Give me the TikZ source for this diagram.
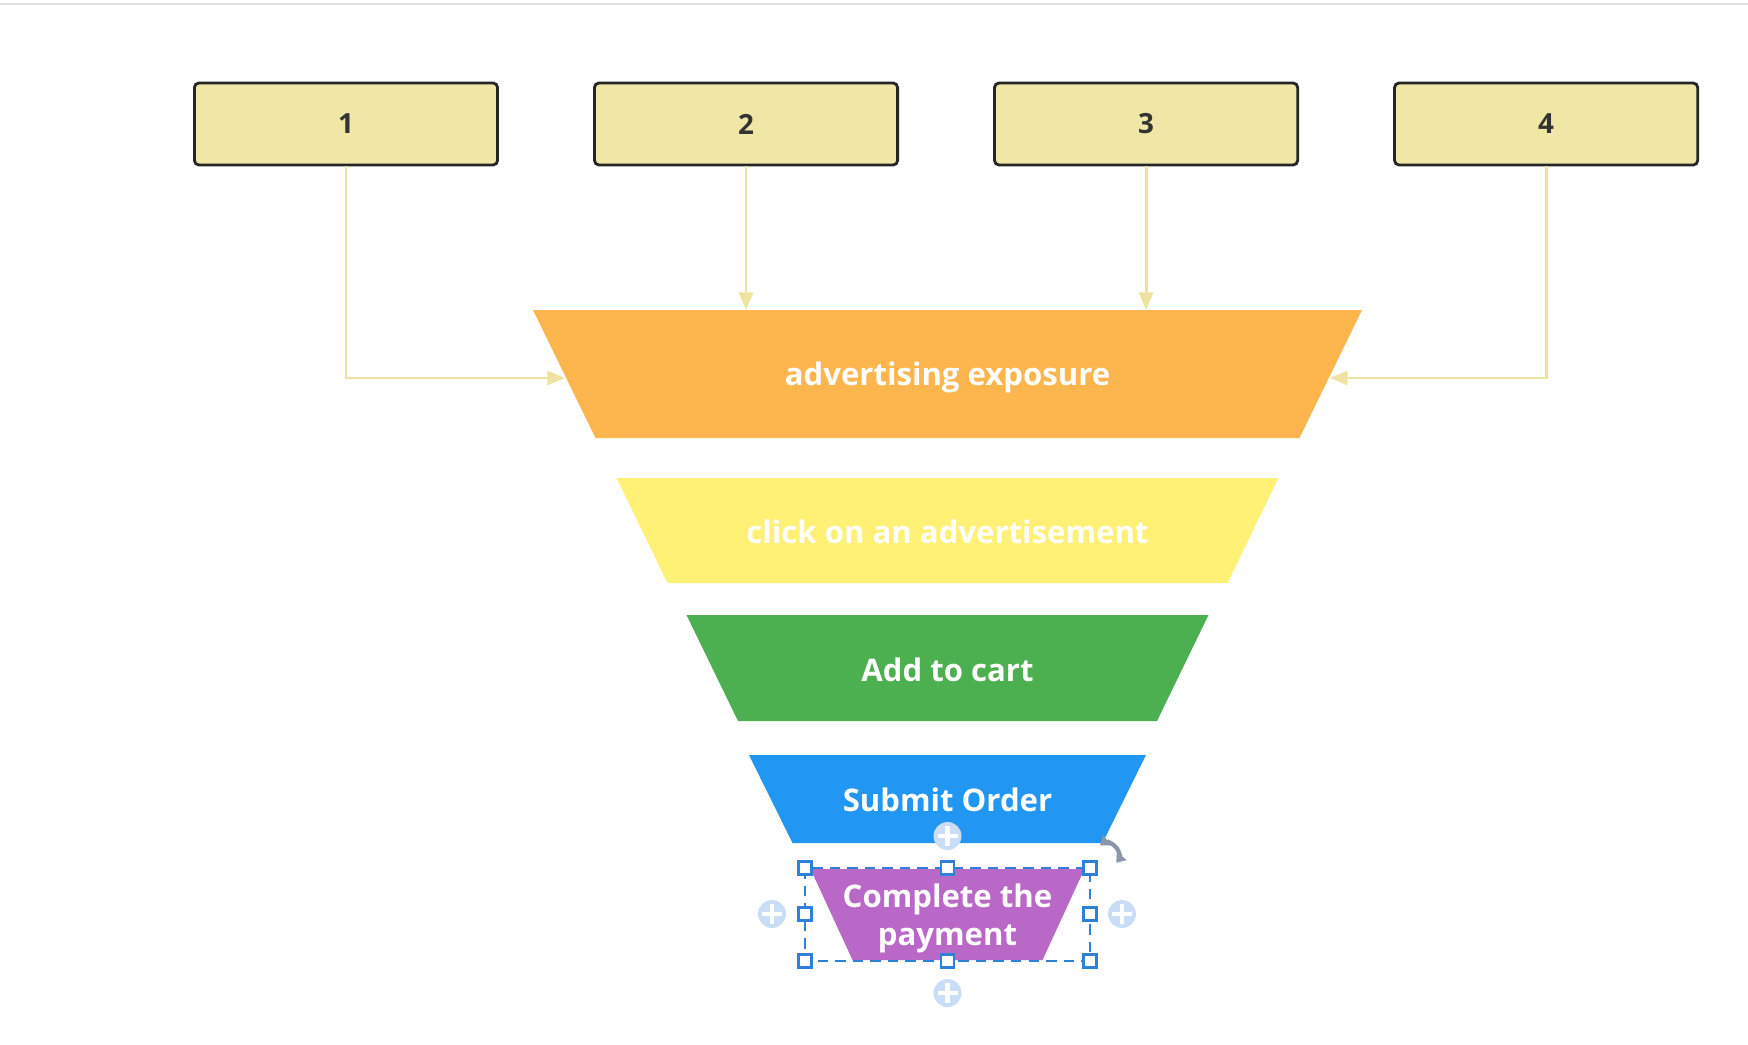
\documentclass[tikz,border=0pt]{standalone}
\usepackage{fontspec}
\setmainfont{Open Sans}
\usepackage{xcolor}
\usepackage{tikz}
\usetikzlibrary{arrows.meta,positioning,calc}

\definecolor{boxfill}{HTML}{F0E6A6}
\definecolor{linkcol}{HTML}{EEE3A0}
\definecolor{orangestage}{HTML}{FDB54E}
\definecolor{yellowstage}{HTML}{FFF176}
\definecolor{greenstage}{HTML}{4CAF50}
\definecolor{bluestage}{HTML}{2196F3}
\definecolor{purplestage}{HTML}{BA68C8}
\definecolor{selblue}{HTML}{2F80D8}
\definecolor{pluscol}{HTML}{C9DDF6}
\definecolor{rotcol}{HTML}{8A97A8}

\tikzset{
  numbox/.style={draw=black!85,line width=0.8pt,rounded corners=1.3pt,fill=boxfill,
    minimum width=3.03cm,minimum height=0.82cm,inner sep=0pt,
    text=black!80,font=\bfseries\fontsize{7.9}{9}\selectfont},
  stagetext/.style={text=white,align=center,font=\bfseries\fontsize{8.85}{10.8}\selectfont},
  link/.style={draw=linkcol,line width=0.8pt,-{Triangle[length=5pt,width=4pt]}},
  handle/.style={draw=selblue,fill=white,line width=0.6pt},
}

\begin{document}
\begin{tikzpicture}[x=0.01cm,y=-0.01cm]
                    \useasboundingbox (0,0) rectangle (1748,1044);
                    \draw[black!12,line width=0.6pt] (0,4) -- (1748,4);

                    % numbered boxes
                    \node[numbox] (n1) at (346,124) {1};
                    \node[numbox,right=0.94cm of n1] (n2) {2};
                    \node[numbox,right=0.94cm of n2] (n3) {3};
                    \node[numbox,right=0.94cm of n3] (n4) {4};

                    % funnel
                    \fill[orangestage] (533,310) -- (1362,310) -- (1299.5,438) -- (595.5,438) -- cycle;
                    \fill[yellowstage] (616.5,478) -- (1278.5,478) -- (1227.5,583) -- (667.5,583) -- cycle;
                    \fill[greenstage] (686.5,615) -- (1208.5,615) -- (1157,721) -- (738,721) -- cycle;
                    \fill[bluestage] (749,755) -- (1146,755) -- (1102.5,843) -- (792.5,843) -- cycle;
                    \fill[purplestage] (810.5,869) -- (1084.5,869) -- (1042.5,960) -- (852.5,960) -- cycle;

                    \node[stagetext] (expo) at (947.5,377) {advertising exposure};
                    \node[stagetext] (click) at (947.5,532) {click on an advertisement};
                    \node[stagetext] (cart) at (947.5,670) {Add to cart};
                    \node[stagetext] (order) at (947.5,800) {Submit Order};
                    \node[stagetext] (pay) at (947.5,918) {Complete the\\payment};

                    \coordinate (expoL) at (565,378);
                    \coordinate (expoR) at (1330,378);
                    \coordinate (expoT) at (947.5,310);

                    \draw[link] (n1.south) |- (expoL);
                    \draw[link] (n2.south) -- (n2.south |- expoT);
                    \draw[link] (n3.south) -- (n3.south |- expoT);
                    \draw[link] (n4.south) |- (expoR);

                    % selection marks
                    \draw[selblue,line width=0.6pt,dash pattern=on 3pt off 2pt] (805,868) rectangle (1090,961);
                    \foreach \x/\y in {805/868,947.5/868,1090/868,805/914,1090/914,805/961,947.5/961,1090/961}
                        \draw[handle] (\x-6.5,\y-6.5) rectangle (\x+6.5,\y+6.5);
                    \foreach \x/\y in {947.5/836,772/914,1122/914,947.5/993}{
                        \fill[pluscol] (\x,\y) circle (14);
                        \draw[white,line width=1.2pt] (\x-10,\y) -- (\x+10,\y) (\x,\y-10) -- (\x,\y+10);
                    }
                    \draw[rotcol,line width=1.2pt,{Triangle[length=2.5pt,width=3.5pt]}-{Triangle[length=2.5pt,width=3.5pt]}]
                        (1107,855) ++(-126:12) arc (-126:40:12);

                \end{tikzpicture}
\end{document}
